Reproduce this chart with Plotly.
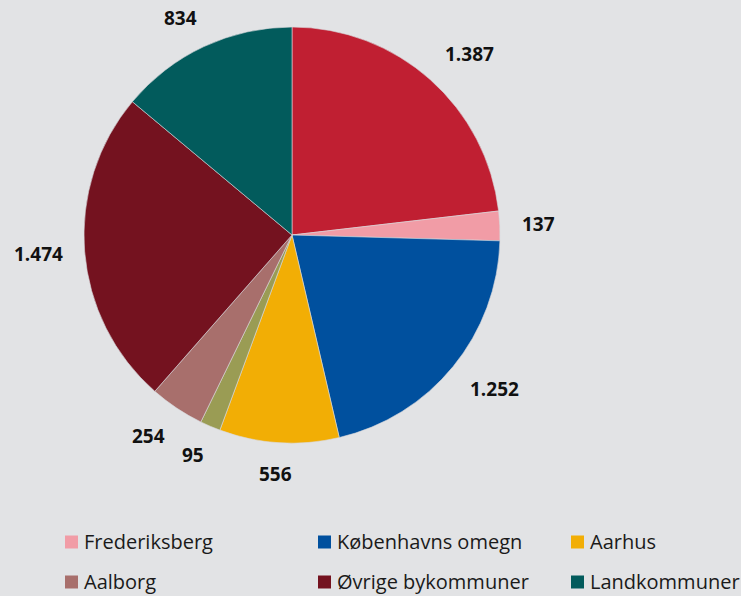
import math
import plotly.graph_objects as go

# Data
categories = ["København", "Frederiksberg", "Københavns omegn", "Aarhus",
              "Odense", "Aalborg", "Øvrige bykommuner", "Landkommuner"]
values = [1387, 137, 1252, 556, 95, 254, 1474, 834]
value_labels = ["1.387", "137", "1.252", "556", "95", "254", "1.474", "834"]
colors = ["#C01F32", "#F19CA6", "#00509E", "#F2AE05",
          "#9A9C54", "#A86F6C", "#74121F", "#025B5C"]
legend_items = ["Frederiksberg", "Københavns omegn", "Aarhus",
                "Aalborg", "Øvrige bykommuner", "Landkommuner"]

W, H = 741, 596
BG = "#E2E3E5"

# pie geometry (pixels)
cx, cy, R = 292, 235, 208
dom_x = [(cx - R) / W, (cx + R) / W]
dom_y = [1 - (cy + R) / H, 1 - (cy - R) / H]

fig = go.Figure()
fig.add_trace(go.Pie(
    labels=categories, values=values, sort=False, direction="clockwise",
    rotation=0, textinfo="none", hoverinfo="label+value",
    marker=dict(colors=colors, line=dict(color="#D8D9DB", width=0.6)),
    domain=dict(x=dom_x, y=dom_y), showlegend=False,
))

annotations = []
total = sum(values)
cum = 0.0
gap = 22
for v, lab in zip(values, value_labels):
    mid = (cum + v / 2) / total * 2 * math.pi
    cum += v
    s, c = math.sin(mid), math.cos(mid)
    w = 11.0 * sum(ch.isdigit() for ch in lab) + 5 * lab.count(".")
    h = 18
    ox = (w / 2) * math.copysign(min(1.0, 2 * abs(s)), s)
    oy = (h / 2) * math.copysign(min(1.0, 2 * abs(c)), c)
    px = cx + (R + gap) * s + ox
    py = cy - (R + gap) * c - oy
    annotations.append(dict(
        x=px / W, y=1 - py / H, xref="paper", yref="paper",
        text=f"<b>{lab}</b>", showarrow=False,
        font=dict(family="Open Sans", size=19, color="#111111"),
        xanchor="center", yanchor="middle"))

# manual legend
shapes = []
col_x = [65, 318, 571]
row_y = [542, 582]
for i, name in enumerate(legend_items):
    r, cc = divmod(i, 3)
    color = colors[categories.index(name)]
    x0 = col_x[cc]
    yc = row_y[r]
    shapes.append(dict(type="rect", xref="paper", yref="paper",
                       x0=x0 / W, x1=(x0 + 13) / W,
                       y0=1 - (yc + 6.5) / H, y1=1 - (yc - 6.5) / H,
                       fillcolor=color, line=dict(width=0)))
    annotations.append(dict(
        x=(x0 + 17) / W, y=1 - (yc - 1) / H, xref="paper", yref="paper",
        text=name, showarrow=False, xanchor="left", yanchor="middle",
        font=dict(family="Open Sans", size=20, color="#1a1a1a")))

fig.update_layout(
    width=W, height=H, margin=dict(l=0, r=0, t=0, b=0),
    paper_bgcolor=BG, plot_bgcolor=BG,
    annotations=annotations, shapes=shapes,
)
fig.write_html("out.html", config={"displayModeBar": False},
               post_script="document.body.style.margin='0';"
                           "document.body.style.overflow='hidden';")
